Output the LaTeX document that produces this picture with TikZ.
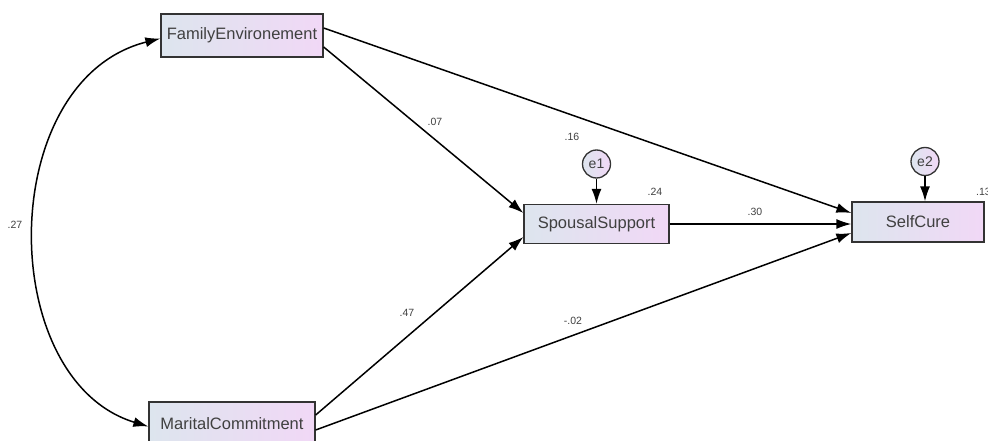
\documentclass[tikz,border=0pt]{standalone}
\usepackage{fontspec}
\setmainfont{Liberation Sans}
\usetikzlibrary{arrows.meta}
\definecolor{boxleft}{HTML}{DDE5EE}
\definecolor{boxright}{HTML}{F1D8F6}
\definecolor{labtext}{HTML}{404040}
\tikzset{
    varbox/.style={draw=black!80,line width=1.3pt,left color=boxleft,right color=boxright,
      inner sep=0pt,text=labtext,font=\fontsize{16.5}{18}\selectfont},
    errcirc/.style={circle,draw=black!80,line width=1.3pt,left color=boxleft,right color=boxright,
      minimum size=28pt,inner sep=0pt,text=labtext,font=\fontsize{14}{16}\selectfont},
    coef/.style={text=labtext,font=\fontsize{10.5}{12}\selectfont,inner sep=0pt},
    path/.style={line width=1.5pt,-{Latex[length=15pt,width=10pt]}}
}
\begin{document}
\begin{tikzpicture}[x=1pt,y=-1pt]
    \useasboundingbox (0,0) rectangle (988,441);
    \node[varbox,minimum width=162pt,minimum height=43pt] (fam) at (242,35.5) {FamilyEnvironement};
    \node[varbox,minimum width=166pt,minimum height=43pt] (mar) at (232,423.5) {MaritalCommitment};
    \node[varbox,minimum width=145pt,minimum height=39pt] (sup) at (596.5,224) {SpousalSupport};
    \node[varbox,minimum width=132pt,minimum height=40pt] (cure) at (918,222) {SelfCure};
    \node[errcirc] (e1) at (596.5,164) {e1};
    \node[errcirc] (e2) at (925,161.5) {e2};
    % covariance
    \draw[line width=1.5pt,{Latex[length=15pt,width=10pt]}-{Latex[length=15pt,width=10pt]}]
      ([yshift=-3pt]fam.west) .. controls (-5,80) and (-5,380) .. ([yshift=-3pt]mar.west);
    \node[coef] (c27) at (15,225) {.27};
    % paths
    \draw[path] ([yshift=7.5pt]fam.east) -- ([yshift=9pt]cure.west);
    \draw[path] ([yshift=-11.5pt]fam.east) -- ([yshift=11pt]sup.west);
    \draw[path] ([yshift=8.5pt]mar.east) -- ([yshift=-13pt]sup.west);
    \draw[path] ([yshift=-6.5pt]mar.east) -- ([yshift=-11pt]cure.west);
    \draw[path] (sup.east) -- ([yshift=-2pt]cure.west);
    \draw[path] (e1.south) -- (sup.north);
    \draw[path] (e2.south) -- ([xshift=7pt]cure.north);
    % coefficients
    \node[coef] (c07) at (435,122) {.07};
    \node[coef] (c16) at (572,137) {.16};
    \node[coef] (c24) at (655,192) {.24};
    \node[coef] (c30) at (755,212) {.30};
    \node[coef] (c47) at (407,313) {.47};
    \node[coef] (c02) at (573,321) {-.02};
    \node[coef,anchor=west] (c13) at (976,192) {.13};
  \end{tikzpicture}
\end{document}
